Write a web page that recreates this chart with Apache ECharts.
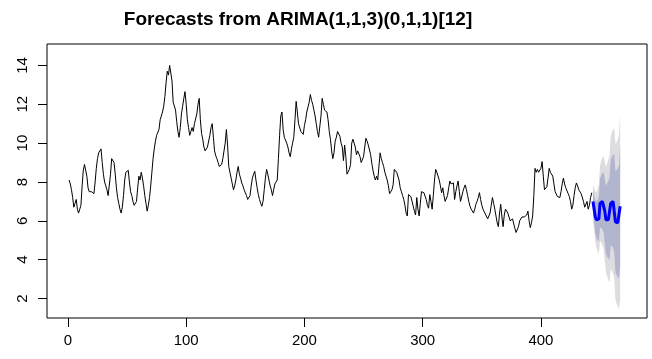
<!DOCTYPE html>
<html>
<head>
<meta charset="utf-8">
<script src="https://cdn.jsdelivr.net/npm/echarts@6/dist/echarts.min.js"></script>
<style>
html,body{margin:0;padding:0;background:#fff;}
#chart{width:652px;height:359px;}
</style>
</head>
<body>
<div id="chart"></div>
<script>
var titleText = "Forecasts from ARIMA(1,1,3)(0,1,1)[12]";
var xTicks = [0, 100, 200, 300, 400];
var yTicks = [2, 4, 6, 8, 10, 12, 14];
var obsStart = 1;
var obs = [
8.1,7.9,7.6,7.2,6.7,6.9,7.1,6.6,6.4,6.3,
6.8,7.8,8.6,8.9,8.8,8.3,7.7,7.5,7.6,7.5,
7.5,7.4,8.0,8.7,9.2,9.5,9.6,9.7,9.0,8.4,
8.0,7.8,7.6,7.3,7.3,8.4,9.2,9.1,9.0,8.4,
7.7,7.2,6.9,6.6,6.4,6.7,7.3,8.1,8.5,8.4,
8.6,8.0,7.5,7.3,7.0,6.8,6.7,7.0,7.7,8.3,
8.1,8.5,8.2,7.8,7.3,6.9,6.5,6.8,7.2,7.8,
8.5,9.2,9.7,10.1,10.4,10.5,10.7,11.2,11.3,11.6,
11.9,12.4,13.1,13.7,13.5,14.0,14.1,13.2,12.1,12.0,
11.7,11.1,10.6,10.3,10.8,11.5,11.9,12.3,12.65,12.0,
11.2,10.8,10.4,10.6,10.8,10.6,11.0,11.05,11.5,12.0,
12.3,
11.2,10.5,10.2,9.8,9.6,9.7,9.8,9.9,10.4,
10.8,11.0,10.3,9.6,9.35,9.2,9.0,8.8,8.7,8.9,
9.2,9.3,10.0,10.7,9.9,8.8,8.5,8.2,7.9,7.6,
7.8,8.1,8.5,8.8,8.4,8.2,7.95,7.8,7.6,7.5,
7.3,7.1,7.0,7.3,7.8,8.2,8.4,8.55,8.1,7.7,
7.35,7.1,6.9,6.75,7.0,7.6,8.2,8.65,8.4,8.1,
7.8,7.6,7.3,7.6,7.9,7.8,8.1,9.2,10.4,11.4,
11.6,10.7,10.3,10.2,10.0,9.8,9.5,9.3,9.7,10.0,
10.3,11.2,12.15,11.6,11.0,10.9,10.6,10.5,10.45,10.9,
11.2,11.6,11.7,12.1,12.5,12.2,12.0,11.7,11.4,11.0,
10.6,10.3,10.3,11.4,12.3,12.0,11.7,11.8,11.6,11.2,
10.6,10.2,9.6,9.2,9.5,10.1,10.3,10.6,10.5,10.35,
10.0,9.8,9.1,9.9,9.3,8.4,8.5,8.65,8.9,10.0,
10.2,10.0,9.8,9.4,9.6,9.65,9.3,9.0,8.95,9.3,
9.8,10.25,10.1,9.9,9.85,9.4,8.95,8.6,8.3,8.1,
8.3,8.1,8.05,9.5,9.2,9.0,8.8,8.5,8.3,8.1,
7.8,7.4,7.35,7.6,7.85,8.65,8.6,8.5,8.55,8.1,
7.7,7.5,7.3,7.1,6.8,6.4,6.25,7.35,7.3,7.25,
7.0,6.75,6.5,6.3,7.2,6.6,6.25,6.9,7.5,7.4,
7.45,7.5,7.1,6.8,6.65,7.35,7.0,6.6,7.3,8.1,
8.65,8.5,8.4,8.1,7.8,7.45,7.7,7.3,7.0,6.9,
7.3,7.7,8.05,7.9,8.0,7.95,7.1,7.5,7.8,8.05,
7.5,7.0,7.1,7.5,7.7,7.85,7.6,7.3,7.0,6.75,
6.6,6.5,6.4,6.6,6.85,7.0,7.2,7.45,7.1,6.8,
6.6,6.5,6.35,6.25,6.1,6.05,6.4,6.8,7.2,6.9,
6.6,6.25,5.9,5.7,6.4,
6.85,6.2,5.7,6.3,6.6,6.5,6.4,6.2,6.0,5.9,
6.1,6.0,5.6,5.4,5.3,5.7,6.0,6.1,6.2,6.3,
6.2,6.15,6.3,6.5,6.0,5.65,5.9,6.25,7.3,8.7,
8.5,8.65,8.5,8.45,8.7,9.05,8.3,7.6,7.7,7.75,
8.2,8.7,8.5,8.4,8.3,7.9,7.5,7.4,7.25,7.2,
7.2,7.5,7.9,8.2,7.9,7.7,7.6,7.4,7.25,7.0,
6.6,6.8,7.3,7.7,7.95,7.8,7.6,7.5,7.4,7.35,
7.0,6.7,6.65,7.0,6.6,6.8,7.2,7.45
];
var fcStart = 444;
var fcMean = [7.0,6.6,6.2,6.05,6.05,6.1,6.9,7.0,7.0,6.95,6.5,6.05,6.05,6.05,6.1,6.9,7.0,7.0,6.9,5.95,5.9,5.9,5.95,6.75];
var hi80 = [7.55,7.3,7.05,7.0,7.1,7.25,8.15,8.35,8.45,8.5,8.15,7.8,7.95,8.05,8.2,9.1,9.3,9.4,9.4,8.55,8.6,8.7,8.85,9.85];
var lo80 = [6.45,5.9,5.35,5.1,5.0,4.95,5.65,5.65,5.55,5.4,4.85,4.3,4.15,4.05,4.0,4.7,4.7,4.6,4.4,3.35,3.2,3.1,3.05,3.65];
var hi95 = [7.85,7.7,7.5,7.5,7.65,7.9,8.85,9.1,9.25,9.35,9.05,8.75,8.95,9.15,9.35,10.3,10.55,10.7,10.75,9.95,10.05,10.2,10.45,11.55];
var lo95 = [6.15,5.5,4.9,4.6,4.45,4.3,4.95,4.9,4.75,4.55,3.95,3.35,3.15,2.95,2.85,3.5,3.45,3.3,3.05,1.95,1.75,1.6,1.45,1.95];

function pairs(start, arr){ return arr.map(function(v,i){ return [start+i, v]; }); }
function bandData(start, lo, hi){ return lo.map(function(v,i){ return [start+i, v, hi[i]]; }); }

function bandSeries(lo, hi, color, z){
  var data = bandData(fcStart, lo, hi);
  return {
    type:'custom', silent:true, z:z, clip:true,
    data:data,
    encode:{x:0, y:[1,2]},
    renderItem:function(params, api){
      if (params.dataIndex !== 0) return null;
      var pts = [];
      for (var i = 0; i < data.length; i++) pts.push(api.coord([data[i][0], data[i][2]]));
      for (var j = data.length - 1; j >= 0; j--) pts.push(api.coord([data[j][0], data[j][1]]));
      return {type:'polygon', shape:{points:pts}, style:{fill:color, stroke:null}};
    }
  };
}

var FONT = "'Liberation Sans', Arial, sans-serif";
var chart = echarts.init(document.getElementById('chart'), null, {renderer:'canvas'});
chart.setOption({
  animation:false,
  backgroundColor:'#ffffff',
  title:{
    text:titleText, left:293, top:5, textAlign:'center',
    textStyle:{fontFamily:FONT, fontWeight:'bold', fontSize:19, color:'#000'}
  },
  grid:{left:47, right:5, top:44, bottom:41, show:true, borderColor:'#000', borderWidth:1, backgroundColor:'transparent'},
  xAxis:{
    type:'value', min:-17.7, max:489.7,
    axisLine:{show:false, onZero:false},
    splitLine:{show:false},
    axisTick:{show:true, customValues:xTicks, length:9, inside:false, lineStyle:{color:'#000', width:1}},
    axisLabel:{customValues:xTicks, fontFamily:FONT, fontSize:15, color:'#000', margin:15}
  },
  yAxis:{
    type:'value', min:1.0, max:15.1,
    axisLine:{show:false, onZero:false},
    splitLine:{show:false},
    axisTick:{show:true, customValues:yTicks, length:9, inside:false, lineStyle:{color:'#000', width:1}},
    axisLabel:{customValues:yTicks, rotate:90, fontFamily:FONT, fontSize:15, color:'#000', margin:17}
  },
  series:[
    bandSeries(lo95, hi95, '#DCDCE1', 1),
    bandSeries(lo80, hi80, '#B1B5CE', 2),
    {type:'line', data:pairs(obsStart, obs), symbol:'none', lineStyle:{color:'#000', width:1}, z:3},
    {type:'line', data:pairs(fcStart, fcMean), symbol:'none', lineStyle:{color:'#0000FF', width:3}, z:4}
  ]
});
</script>
</body>
</html>
